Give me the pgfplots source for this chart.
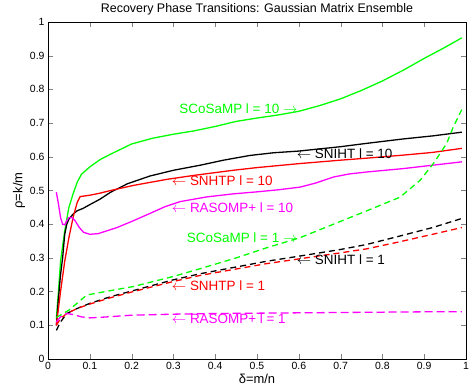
\documentclass[border=0pt]{standalone}
\usepackage{pgfplots}
\pgfplotsset{compat=1.18}
\usepackage{fontspec}
\setmainfont{Liberation Sans}
\definecolor{mgreen}{rgb}{0,1,0}
\definecolor{mred}{rgb}{1,0,0}
\definecolor{mmag}{rgb}{1,0,1}
\begin{document}
\begin{tikzpicture}
\useasboundingbox (0,0) rectangle (471bp,392bp);
\begin{axis}[
  at={(48bp,33bp)}, anchor=south west,
  scale only axis, width=418bp, height=337bp,
  xmin=0, xmax=1, ymin=0, ymax=1,
  xtick={0,0.1,0.2,0.3,0.4,0.5,0.6,0.7,0.8,0.9,1},
  ytick={0,0.1,0.2,0.3,0.4,0.5,0.6,0.7,0.8,0.9,1},
  tick align=inside, major tick length=5bp,
  /pgf/number format/assume math mode=true,
  ticklabel style={font=\fontsize{10.5}{12}\selectfont},
  title={Recovery Phase Transitions: Gaussian Matrix Ensemble},
  title style={font=\fontsize{12.5}{14}\selectfont, yshift=-3bp},
  xlabel={δ=m/n}, ylabel={ρ=k/m},
  xlabel style={font=\fontsize{13}{14}\selectfont, yshift=3bp},
  ylabel style={font=\fontsize{13}{14}\selectfont, yshift=-2bp},
  clip=false,
  every axis plot/.append style={line width=1.3pt},
]
% SCoSaMP l=10
\addplot[mgreen] coordinates {(0.02,0.12)(0.025,0.2)(0.03,0.29)(0.04,0.38)(0.05,0.45)(0.06,0.49)(0.07,0.525)(0.08,0.548)(0.1,0.57)(0.125,0.592)(0.15,0.608)(0.2,0.638)(0.25,0.655)(0.3,0.667)(0.35,0.677)(0.4,0.69)(0.45,0.705)(0.5,0.715)(0.55,0.724)(0.6,0.735)(0.65,0.752)(0.7,0.772)(0.75,0.797)(0.8,0.825)(0.85,0.857)(0.9,0.892)(0.95,0.925)(0.99,0.953)};
% SNIHT l=10
\addplot[black] coordinates {(0.02,0.1)(0.025,0.18)(0.03,0.25)(0.035,0.3)(0.04,0.37)(0.045,0.4)(0.05,0.415)(0.06,0.43)(0.07,0.44)(0.084,0.447)(0.1,0.458)(0.124,0.474)(0.15,0.495)(0.19,0.52)(0.244,0.543)(0.3,0.56)(0.364,0.575)(0.42,0.59)(0.483,0.604)(0.54,0.612)(0.6,0.617)(0.7,0.63)(0.763,0.64)(0.85,0.653)(0.92,0.662)(0.99,0.673)};
% SNHTP l=10
\addplot[mred] coordinates {(0.02,0.1)(0.03,0.2)(0.04,0.29)(0.05,0.36)(0.06,0.42)(0.07,0.465)(0.077,0.482)(0.1,0.486)(0.124,0.492)(0.15,0.5)(0.204,0.515)(0.284,0.533)(0.35,0.545)(0.443,0.56)(0.5,0.568)(0.603,0.58)(0.7,0.59)(0.763,0.596)(0.85,0.605)(0.92,0.613)(0.99,0.625)};
% RASOMP+ l=10
\addplot[mmag] coordinates {(0.02,0.495)(0.025,0.46)(0.03,0.42)(0.035,0.40)(0.04,0.398)(0.045,0.41)(0.05,0.42)(0.057,0.42)(0.065,0.41)(0.075,0.39)(0.085,0.376)(0.1,0.37)(0.12,0.372)(0.14,0.38)(0.165,0.39)(0.2,0.408)(0.244,0.432)(0.28,0.452)(0.316,0.467)(0.38,0.481)(0.443,0.49)(0.5,0.496)(0.55,0.502)(0.603,0.51)(0.64,0.522)(0.683,0.54)(0.72,0.549)(0.763,0.555)(0.85,0.565)(0.92,0.575)(0.99,0.585)};
% SCoSaMP l=1
\addplot[mgreen, dash pattern=on 6bp off 4bp] coordinates {(0.02,0.123)(0.05,0.145)(0.093,0.19)(0.15,0.203)(0.204,0.215)(0.3,0.245)(0.364,0.268)(0.45,0.3)(0.523,0.33)(0.603,0.36)(0.683,0.40)(0.763,0.44)(0.842,0.48)(0.89,0.53)(0.922,0.58)(0.954,0.64)(0.97,0.69)(0.99,0.74)};
% SNIHT l=1
\addplot[black, dash pattern=on 6bp off 4bp] coordinates {(0.02,0.085)(0.03,0.11)(0.045,0.135)(0.07,0.15)(0.1,0.165)(0.15,0.185)(0.204,0.203)(0.3,0.235)(0.364,0.253)(0.45,0.273)(0.523,0.29)(0.6,0.305)(0.7,0.325)(0.763,0.34)(0.842,0.365)(0.92,0.39)(0.99,0.417)};
% SNHTP l=1
\addplot[mred, dash pattern=on 6bp off 4bp] coordinates {(0.02,0.1)(0.03,0.12)(0.045,0.135)(0.07,0.15)(0.1,0.163)(0.15,0.182)(0.204,0.2)(0.3,0.23)(0.364,0.248)(0.45,0.267)(0.523,0.283)(0.6,0.297)(0.7,0.315)(0.763,0.327)(0.842,0.348)(0.92,0.37)(0.99,0.39)};
% RASOMP+ l=1
\addplot[mmag, dash pattern=on 8bp off 4bp] coordinates {(0.02,0.11)(0.03,0.125)(0.045,0.135)(0.06,0.132)(0.08,0.125)(0.1,0.122)(0.13,0.124)(0.2,0.13)(0.3,0.133)(0.4,0.135)(0.5,0.136)(0.6,0.137)(0.7,0.138)(0.8,0.139)(0.9,0.14)(0.99,0.14)};
\begin{scope}[every node/.style={font=\fontsize{13.5}{14}\selectfont, inner sep=0pt}]
\node[anchor=east, text=mgreen] at (axis cs:0.597,0.744) {SCoSaMP l = 10 $\rightarrow$};
\node[anchor=west, text=black] at (axis cs:0.595,0.61) {$\leftarrow$ SNIHT l = 10};
\node[anchor=west, text=mred] at (axis cs:0.296,0.53) {$\leftarrow$ SNHTP l = 10};
\node[anchor=west, text=mmag] at (axis cs:0.296,0.45) {$\leftarrow$ RASOMP+ l = 10};
\node[anchor=east, text=mgreen] at (axis cs:0.597,0.36) {SCoSaMP l = 1 $\rightarrow$};
\node[anchor=west, text=black] at (axis cs:0.595,0.296) {$\leftarrow$ SNIHT l = 1};
\node[anchor=west, text=mred] at (axis cs:0.296,0.218) {$\leftarrow$ SNHTP l = 1};
\node[anchor=west, text=mmag] at (axis cs:0.296,0.12) {$\leftarrow$ RASOMP+ l = 1};
\end{scope}
\end{axis}
\end{tikzpicture}
\end{document}
